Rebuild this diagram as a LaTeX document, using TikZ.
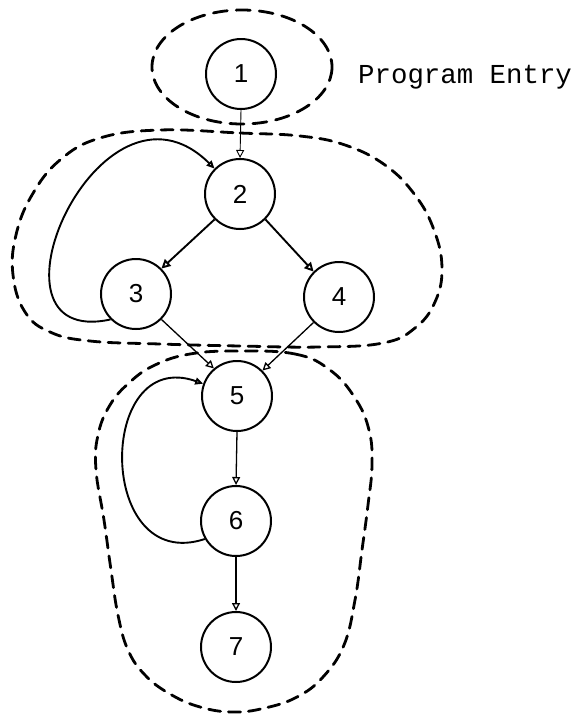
\documentclass[tikz,border=0pt]{standalone}
\usepackage{fontspec}
\setmainfont{Liberation Sans}
\newfontfamily\typewriter{Liberation Mono}
\usetikzlibrary{arrows.meta}
\begin{document}
\begin{tikzpicture}[x=1pt,y=-1pt,
  state/.style={circle, draw, line width=2pt, minimum size=70pt, inner sep=0pt,
                font=\fontsize{26}{26}\selectfont},
  region/.style={line width=2.8pt, dash pattern=on 12pt off 8pt, line cap=round},
  flow/.style={line width=1.3pt, -{Triangle[open,length=8pt,width=8pt]}},
  heavy/.style={line width=1.9pt, -{Triangle[open,length=9pt,width=9pt]}},
  back/.style={line width=1.9pt, -{Triangle[open,length=8pt,width=7pt]}}]
\useasboundingbox (0,0) rectangle (577,716);

% program states
\node[state] (n1) at (241,74)  {1};
\node[state] (n2) at (240,194) {2};
\node[state] (n3) at (136,294) {3};
\node[state] (n4) at (339,297) {4};
\node[state] (n5) at (237,396) {5};
\node[state] (n6) at (236,521) {6};
\node[state] (n7) at (236,647) {7};

\node[anchor=base west, inner sep=0pt, font=\typewriter\fontsize{27.4}{28}\selectfont]
  (entry) at (358,83) {Program Entry};

% dashed groupings
\draw[region, dash pattern=on 14pt off 9pt] (242,67) ellipse [x radius=90, y radius=57];
\draw[region] plot[smooth cycle, tension=0.7] coordinates {
  (160,130) (240,133) (300,136) (345,145) (385,165) (415,195) (434,230)
  (442,268) (435,302) (415,328) (383,343) (320,347) (240,346) (160,344)
  (90,341) (50,332) (25,312) (13,275) (16,235) (32,195) (60,160) (100,138)};
\draw[region] plot[smooth cycle, tension=0.7] coordinates {
  (237,351) (295,354) (330,370) (355,398) (369,430) (372,465) (368,505)
  (362,550) (355,600) (344,645) (323,677) (297,697) (265,708) (233,712)
  (200,707) (170,694) (145,675) (128,650) (118,615) (111,570) (104,520)
  (96,470) (98,435) (110,405) (130,382) (155,365) (190,354)};

% control flow
\draw[flow, line width=0.9pt] (n1.south) -- (n2.north);
\draw[heavy] (n2.225) -- (n3.45);
\draw[heavy] (n2.-45) -- (n4.135);
\draw[flow] (n3.-45) -- (n5.130);
\draw[flow] (n4.-135) -- (n5.45);
\draw[flow] (n5.south) -- (n6.north);
\draw[flow] (n6.south) -- (n7.north);

% loops back
\draw[back] (n3.225) .. controls (-30,350) and (100,55) .. (n2.135);
\draw[back] (n6.210) .. controls (96,575) and (96,346) .. (n5.160);
\end{tikzpicture}
\end{document}
